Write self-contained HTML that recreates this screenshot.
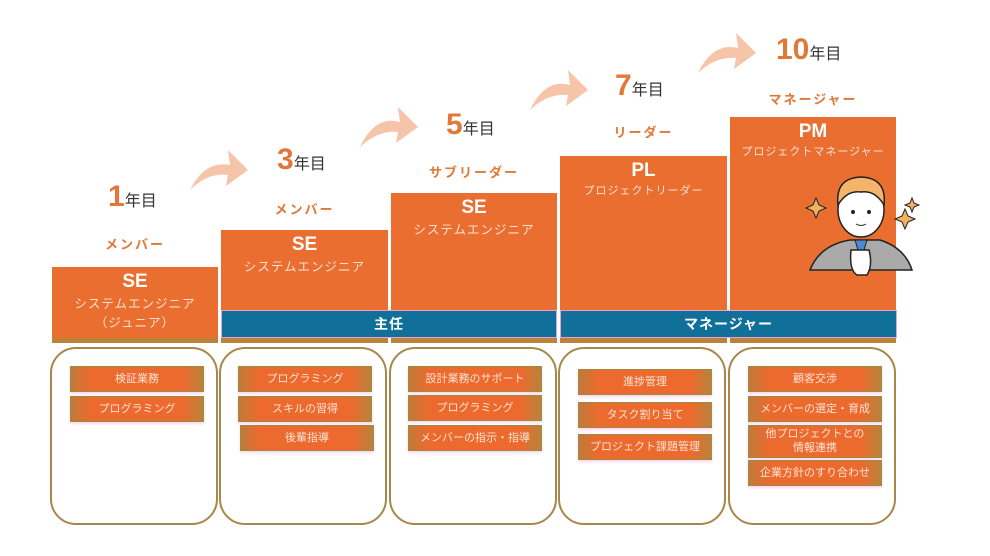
<!DOCTYPE html>
<html><head><meta charset="utf-8"><style>
body{margin:0;width:990px;height:556px;background:#fff;position:relative;overflow:hidden;font-family:"Liberation Sans","Noto Sans CJK JP",sans-serif}
.a{position:absolute}
.box{position:absolute;background:#e96e30;border-bottom:5px solid #b9833a;color:#fff;text-align:center}
.box b{display:block;font-size:19px;margin-top:4px;line-height:22px}
.box span{display:block;font-size:12.5px;letter-spacing:1px;color:#fbe0d0}
.yr{position:absolute;font-size:16px;color:#333;font-weight:normal}
.yr em{font-style:normal;font-size:30px;color:#e07838;font-weight:bold}
.role{position:absolute;font-size:13px;color:#e07838;font-weight:bold;letter-spacing:2px;text-align:center}
.card{position:absolute;top:347px;width:164px;height:174px;border:2.5px solid #a8884a;border-radius:26px;box-sizing:content-box}
.it{position:absolute;height:24px;width:132px;background:linear-gradient(90deg,#c07a3a,#ec6a2e 15%,#ec6a2e 85%,#b8833a);border:1px solid #a08a40;color:#fde3d4;font-size:11px;text-align:center;line-height:24px;box-shadow:0 2px 3px #f7d6f0}
.band{position:absolute;top:310px;height:26px;background:#10709a;color:#fff;font-size:14px;font-weight:bold;text-align:center;line-height:26px;letter-spacing:1px;border:1px solid #f0a0d0}
</style></head><body>
<svg class="a" style="left:0;top:0" width="990" height="556">
<g fill="#f6c4a8">
<path d="M190 190 Q205 160 230 165 L228 150 L248 170 L226 186 L228 175 Q208 172 190 190Z"/>
<path d="M360 147 Q375 115 400 122 L398 107 L418 127 L396 143 L398 132 Q378 130 360 147Z"/>
<path d="M530 110 Q545 78 570 85 L568 70 L588 90 L566 106 L568 95 Q548 93 530 110Z"/>
<path d="M698 73 Q713 42 738 48 L736 33 L756 53 L734 69 L736 58 Q716 56 698 73Z"/>
</g></svg>
<div class="yr" style="left:108px;top:180px"><em>1</em>年目</div>
<div class="yr" style="left:277px;top:143px"><em>3</em>年目</div>
<div class="yr" style="left:446px;top:108px"><em>5</em>年目</div>
<div class="yr" style="left:615px;top:69px"><em>7</em>年目</div>
<div class="yr" style="left:776px;top:33px"><em>10</em>年目</div>
<div class="role" style="left:52px;width:166px;top:234px">メンバー</div>
<div class="role" style="left:221px;width:167px;top:199px">メンバー</div>
<div class="role" style="left:391px;width:166px;top:162px">サブリーダー</div>
<div class="role" style="left:560px;width:167px;top:122px">リーダー</div>
<div class="role" style="left:730px;width:166px;top:89px">マネージャー</div>
<div class="box" style="left:52px;top:267px;width:166px;height:71px"><b>SE</b><span>システムエンジニア<br>（ジュニア）</span></div>
<div class="box" style="left:221px;top:230px;width:167px;height:108px"><b>SE</b><span>システムエンジニア</span></div>
<div class="box" style="left:391px;top:193px;width:166px;height:145px"><b>SE</b><span>システムエンジニア</span></div>
<div class="box" style="left:560px;top:156px;width:167px;height:182px"><b>PL</b><span style="font-size:11px">プロジェクトリーダー</span></div>
<div class="box" style="left:730px;top:117px;width:166px;height:221px"><b>PM</b><span style="font-size:11px">プロジェクトマネージャー</span></div>
<div class="band" style="left:221px;width:334px">主任</div>
<div class="band" style="left:560px;width:335px">マネージャー</div>
<svg class="a" style="left:805px;top:170px" width="115" height="110">
<path d="M8 35 l3 -7 l3 7 l7 3 l-7 3 l-3 7 l-3 -7 l-7 -3z" fill="#f2b060" stroke="#222" stroke-width="1"/>
<path d="M97 46 l3 -7 l3 7 l7 3 l-7 3 l-3 7 l-3 -7 l-7 -3z" fill="#f2b060" stroke="#222" stroke-width="1"/>
<path d="M105 33 l2 -5 l2 5 l5 2 l-5 2 l-2 5 l-2 -5 l-5 -2z" fill="#f2b060" stroke="#222" stroke-width="1"/>
<path d="M5 100 Q15 75 45 70 L75 70 Q100 78 107 100Z" fill="#aaa" stroke="#222" stroke-width="1.5"/>
<path d="M50 70 L56 90 L62 70Z" fill="#4a8ad0" stroke="#222"/>
<ellipse cx="56" cy="40" rx="23" ry="27" fill="#fff" stroke="#222" stroke-width="1.5"/>
<path d="M33 35 Q30 8 56 7 Q82 8 79 35 Q70 20 56 22 Q42 20 33 35Z" fill="#f5b46a" stroke="#222" stroke-width="1.5"/>
<circle cx="48" cy="42" r="2" fill="#222"/><circle cx="64" cy="42" r="2" fill="#222"/>
<path d="M51 54 Q56 57 61 54" stroke="#222" fill="none"/>
<path d="M46 80 Q44 100 52 105 L62 105 Q68 95 64 80Z" fill="#fff" stroke="#222" stroke-width="1.5"/>
</svg>
<div class="card" style="left:50px"></div>
<div class="card" style="left:219px"></div>
<div class="card" style="left:389px"></div>
<div class="card" style="left:558px"></div>
<div class="card" style="left:728px"></div>
<div class="it" style="left:70px;top:366px">検証業務</div>
<div class="it" style="left:70px;top:396px">プログラミング</div>
<div class="it" style="left:238px;top:366px">プログラミング</div>
<div class="it" style="left:238px;top:396px">スキルの習得</div>
<div class="it" style="left:240px;top:425px">後輩指導</div>
<div class="it" style="left:408px;top:366px">設計業務のサポート</div>
<div class="it" style="left:408px;top:395px">プログラミング</div>
<div class="it" style="left:408px;top:425px">メンバーの指示・指導</div>
<div class="it" style="left:578px;top:369px">進捗管理</div>
<div class="it" style="left:578px;top:402px">タスク割り当て</div>
<div class="it" style="left:578px;top:434px">プロジェクト課題管理</div>
<div class="it" style="left:748px;top:366px">顧客交渉</div>
<div class="it" style="left:748px;top:396px">メンバーの選定・育成</div>
<div class="it" style="left:748px;top:425px;height:30px;line-height:14px;padding-top:1px">他プロジェクトとの<br>情報連携</div>
<div class="it" style="left:748px;top:460px">企業方針のすり合わせ</div>
</body></html>
